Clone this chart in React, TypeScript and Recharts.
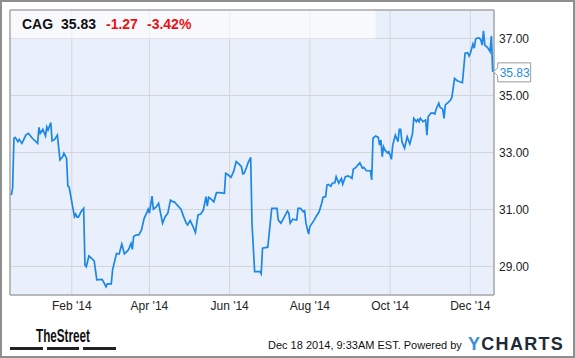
import React from 'react'
import { LineChart, Line, XAxis, YAxis, CartesianGrid, ReferenceArea, ReferenceDot } from 'recharts'

// days counted from Jan 1 2014 (negative = Dec 2013)
const days = [
    -15, -14, -13, -12, -10, -9, -7, -6, -4, -2, 1, 5, 6, 7, 9, 11, 12, 13, 15, 16, 18, 20, 22, 24, 25, 27, 28, 29,
    33, 34, 35, 36, 38, 40, 41, 42, 44, 48, 50, 54, 55, 57, 58, 61, 62, 65, 67, 69, 71, 74, 76, 77, 78, 80, 82, 84,
    86, 88, 89, 90, 92, 93, 95, 97, 98, 100, 102, 104, 106, 108, 109, 111, 114, 116, 118, 119, 121, 123, 125, 126,
    127, 129, 131, 133, 134, 135, 137, 139, 141, 143, 147, 148, 150, 152, 154, 156, 158, 160, 161, 162, 164, 165,
    167, 168, 170, 172, 174, 175, 176, 179, 180, 183, 185, 187, 188, 190, 192, 195, 196, 197, 199, 202, 203, 205,
    207, 208, 209, 211, 212, 214, 215, 217, 219, 221, 222, 224, 225, 226, 228, 229, 231, 232, 234, 235, 236, 237,
    239, 241, 243, 244, 245, 247, 250, 252, 253, 255, 258, 259, 260, 262, 264, 265, 266, 267, 268, 269, 271, 272,
    273, 274, 275, 276, 277, 279, 280, 281, 282, 284, 286, 288, 290, 291, 293, 294, 295, 296, 298, 300, 301, 302,
    304, 306, 307, 308, 310, 311, 313, 314, 315, 317, 319, 320, 322, 324, 326, 328, 330, 332, 333, 334, 336, 337,
    338, 339, 341, 342, 343, 344, 345, 347, 348, 349, 350, 351,
]

const prices = [
    31.51, 31.75, 33.5, 33.53, 33.38, 33.46, 33.32, 33.41, 33.61, 33.67, 33.5, 33.32, 33.88, 33.67, 33.81, 33.58,
    33.9, 33.79, 34.05, 33.41, 33.46, 33.61, 32.74, 32.85, 32.97, 32.8, 31.82, 31.78,
    30.75, 30.84, 30.73, 30.73, 30.92, 31.04, 29.05, 28.99, 29.37, 29.2, 28.53, 28.55, 28.47, 28.29, 28.39, 28.39,
    28.88, 29.46, 29.44, 29.79, 29.44, 29.58, 29.81, 29.6, 30.05, 30.11, 30.11, 30.28,
    30.69, 30.89, 31.01, 30.87, 31.47, 31.01, 31.08, 31.22, 30.98, 30.52, 30.75, 30.87, 31.33, 31.27, 31.27, 31.16,
    31.01, 30.75, 30.52, 30.46, 30.61, 30.42, 30.19, 30.52,
    30.81, 30.84, 30.98, 31.45, 31.12, 31.43, 31.36, 31.27, 31.59, 31.59, 31.57, 32.27, 32.21, 32.13, 32.33, 32.68,
    32.6, 32.5, 32.25, 32.27, 32.5, 32.64,
    32.83, 30.52, 28.82, 28.82, 28.82, 28.74, 29.64, 29.67, 29.67, 31.04, 31.04, 31.04, 30.63, 30.52, 30.69, 30.95,
    30.87, 30.52, 30.66, 30.63, 31.04, 31.04,
    30.92, 30.95, 30.52, 30.14, 30.4, 30.54, 30.61, 30.77, 30.92, 31.22, 31.43, 31.45, 31.86, 31.88, 31.82, 31.92,
    31.94, 32.15, 31.92, 32.01, 32.09, 31.89,
    32.15, 32.18, 32.13, 32.09, 32.41, 32.48, 32.64, 32.45, 32.48, 32.36, 32.36, 32.04, 33.5, 33.58, 33.53, 33.26,
    33.44, 32.85, 33.2, 33.09, 32.99, 33.03,
    32.91, 32.76, 33.26, 33.44, 33.61, 33.38, 33.81, 33.81, 33.38, 33.15, 33.55, 33.3, 33.65, 34.2, 34.08, 34.16,
    34.08, 34.2, 34.08, 34.14, 33.61, 34.26,
    34.38, 34.38, 34.35, 34.52, 34.73, 34.59, 34.52, 34.2, 34.67, 34.75, 34.84, 34.94, 35.6, 35.52, 35.48, 35.45,
    36.48, 36.5, 36.39, 36.48, 36.81, 36.66,
    36.97, 37.01, 37.01, 36.95, 36.77, 37.27, 36.77, 36.69, 36.62, 36.54, 37.09, 35.83,
]

const xTicks = [31, 90, 151, 212, 273, 334]
const xTickLabels = ["Feb '14", "Apr '14", "Jun '14", "Aug '14", "Oct '14", "Dec '14"]
const yTicks = [29, 31, 33, 35, 37]

const chartData = days.map((d, i) => ({ day: d, price: prices[i] }))
const last = chartData[chartData.length - 1]

const FONT = '"Liberation Sans", Arial, sans-serif'

const Callout = (props: any) => {
    const { cx, cy } = props
    if (cx == null || cy == null) return <g />
    const path = `M${cx + 1},${cy} L${cx + 5},${cy - 4} L${cx + 5},${cy - 9} L${cx + 38},${cy - 9} L${cx + 38},${cy + 10} L${cx + 5},${cy + 10} L${cx + 5},${cy + 4} Z`
    return (
        <g>
            <path d={path} fill="#ffffff" stroke="#9a9a9a" strokeWidth={1} />
            <text x={cx + 7} y={cy + 5} fontSize={12} fontFamily={FONT} fill="#1f8be6">
                {last.price.toFixed(2)}
            </text>
        </g>
    )
}

const App = () => {
    return (
        <div style={{ position: 'absolute', left: 0, top: 0, width: 575, height: 358, background: '#fff', boxSizing: 'border-box', border: '2px solid #8f8f8f', overflow: 'hidden' }}>
            <div style={{ position: 'absolute', left: -2, top: -2 }}>
                <LineChart width={575} height={358} data={chartData} margin={{ top: 10, right: 0, left: 10, bottom: 33 }}>
                    <CartesianGrid fill="#eaf0fb" stroke="#d2d5da" vertical horizontal />
                    <XAxis
                        dataKey="day"
                        type="number"
                        domain={[-16, 352]}
                        ticks={xTicks}
                        tickFormatter={(v: number) => xTickLabels[xTicks.indexOf(v)] ?? ''}
                        axisLine={false}
                        tickLine={false}
                        tickSize={0}
                        tickMargin={6}
                        height={30}
                        tick={{ fontSize: 12, fill: '#222', fontFamily: FONT }}
                        allowDataOverflow
                    />
                    <YAxis
                        orientation="right"
                        type="number"
                        domain={[28, 38]}
                        ticks={yTicks}
                        tickFormatter={(v: number) => v.toFixed(2)}
                        axisLine={false}
                        tickLine={false}
                        tickSize={0}
                        tickMargin={5}
                        width={81}
                        tick={{ fontSize: 12, fill: '#222', fontFamily: FONT }}
                        allowDataOverflow
                    />
                    <ReferenceArea x1={-16} x2={262} y1={37} y2={38} fill="#ffffff" fillOpacity={0.6} stroke="none" />
                    <Line
                        type="linear"
                        dataKey="price"
                        stroke="#1b87e6"
                        strokeWidth={1.7}
                        dot={false}
                        isAnimationActive={false}
                    />
                    <ReferenceArea x1={-16} x2={352} y1={28} y2={38} fill="none" stroke="#8c8c8c" strokeWidth={1} />
                    <ReferenceDot x={last.day} y={last.price} r={0} shape={Callout} ifOverflow="visible" />
                </LineChart>
                <svg width={575} height={358} style={{ position: 'absolute', left: 0, top: 0, pointerEvents: 'none' }}>
                    <g fontFamily={FONT} fontWeight="bold" fontSize={14}>
                        <text x={22} y={29} fill="#111">CAG</text>
                        <text x={61} y={29} fill="#111">35.83</text>
                        <text x={106} y={29} fill="#ee1111">-1.27</text>
                        <text x={147} y={29} fill="#ee1111">-3.42%</text>
                    </g>
                    <text x={36} y={342} fontFamily='"Liberation Sans Narrow", "Liberation Sans", sans-serif' fontWeight="bold" fontSize={18} fill="#111" textLength={54} lengthAdjust="spacingAndGlyphs">TheStreet</text>
                    <rect x={10} y={347} width={33} height={3} fill="#222" />
                    <rect x={47} y={347} width={32} height={3} fill="#222" />
                    <rect x={83} y={347} width={33} height={3} fill="#222" />
                    <text x={268} y={349} fontFamily={FONT} fontSize={11} fill="#111">Dec 18 2014, 9:33AM EST.  Powered by</text>
                    <text x={468} y={350} fontFamily={FONT} fontWeight="bold" fontSize={18} letterSpacing={1.3}>
                        <tspan fill="#3d8fd8">Y</tspan>
                        <tspan fill="#1d2a38">CHARTS</tspan>
                    </text>
                </svg>
            </div>
        </div>
    )
}

export default App
